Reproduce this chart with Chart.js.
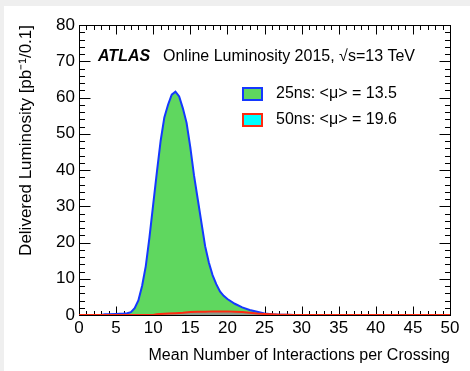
<!DOCTYPE html>
<html>
<head>
<meta charset="utf-8">
<script src="https://cdn.jsdelivr.net/npm/chart.js@4/dist/chart.umd.min.js"></script>
<style>
html,body{margin:0;padding:0;background:#efefef;width:470px;height:371px;overflow:hidden}
#wrap{position:absolute;left:4px;top:6px;width:466px;height:365px;background:#fff}
</style>
</head>
<body>
<div id="wrap"><canvas id="c" width="466" height="365"></canvas></div>
<script>
// 25ns fills (mean mu vs delivered lumi per 0.1 bin)
const mu25 = [3, 3.5, 4, 5, 6, 6.5, 7, 7.5, 8, 8.5, 9, 9.5, 10, 10.5, 11, 11.5, 12, 12.5, 13, 13.5, 14, 14.5, 15, 15.5, 16, 16.5, 17, 17.5, 18, 18.5, 19, 19.5, 20, 21, 22, 23, 24, 25, 26, 27, 28, 29, 30];
const lumi25 = [0, 0.2, 0.2, 0.3, 0.4, 0.5, 0.8, 1.9, 4, 8, 13.5, 21.5, 30.5, 39.5, 48, 54.5, 58, 60.8, 61.6, 60.3, 57, 53, 46.3, 38.5, 32, 25.5, 19, 14.5, 11, 8.5, 6.5, 5.3, 4.4, 3.1, 2.1, 1.4, 0.9, 0.4, 0.2, 0.1, 0.05, 0, 0];
// 50ns fills
const mu50 = [0, 10, 10.5, 11, 12, 13, 14, 15, 16, 17, 18, 19, 20, 21, 22, 23, 24, 25, 26, 27, 28, 29, 50];
const lumi50 = [0, 0, 0.2, 0.3, 0.4, 0.5, 0.6, 0.8, 0.9, 0.9, 1.0, 1.0, 1.0, 0.9, 0.8, 0.6, 0.4, 0.3, 0.2, 0.1, 0.05, 0, 0];

const seriesLabels = ['25ns: <\u03bc> = 13.5', '50ns: <\u03bc> = 19.6'];
const xTickValues = [0, 5, 10, 15, 20, 25, 30, 35, 40, 45, 50];
const yTickValues = [0, 10, 20, 30, 40, 50, 60, 70, 80];

const FONT = "'Liberation Sans', Arial, Helvetica, sans-serif";
const GREEN = '#5fd75f', BLUE = '#1438ff', RED = '#ff2a10', CYAN = '#00ffff';

const pts = (xs, ys) => xs.map((v, i) => ({x: v, y: ys[i]}));

// ROOT style frame with inside ticks on all four sides
const frame = {
  id: 'frame',
  beforeDatasetsDraw(chart) {
    const {ctx, chartArea: a, scales: {x, y}} = chart;
    const L = Math.round(a.left) + 0.5, R = Math.round(a.right) + 0.5;
    const T = Math.round(a.top) + 0.5, B = Math.round(a.bottom) + 0.5;
    ctx.save();
    ctx.strokeStyle = '#000'; ctx.lineWidth = 1;
    ctx.strokeRect(L, T, R - L, B - T);
    ctx.beginPath();
    for (let v = x.min; v <= x.max; v += 1) {
      const px = Math.round(x.getPixelForValue(v)) + 0.5;
      const len = v % 5 === 0 ? 9 : 4.5;
      ctx.moveTo(px, B); ctx.lineTo(px, B - len);
      ctx.moveTo(px, T); ctx.lineTo(px, T + len);
    }
    for (let v = y.min; v <= y.max; v += 2) {
      const py = Math.round(y.getPixelForValue(v)) + 0.5;
      const len = v % 10 === 0 ? 11 : 5.5;
      ctx.moveTo(L, py); ctx.lineTo(L + len, py);
      ctx.moveTo(R, py); ctx.lineTo(R - len, py);
    }
    ctx.stroke();
    ctx.restore();
  },
  afterDraw(chart) {
    const ctx = chart.ctx;
    ctx.save();
    ctx.fillStyle = '#000';
    ctx.textBaseline = 'middle';
    ctx.font = 'italic bold 16px ' + FONT;
    ctx.fillText('ATLAS', 94, 51);
    ctx.font = '16px ' + FONT;
    ctx.fillText('Online Luminosity 2015, \u221as=13 TeV', 159, 51);
    // legend
    const boxes = [[GREEN, BLUE], [CYAN, RED]];
    boxes.forEach((c, i) => {
      const by = 82 + i * 26;
      ctx.fillStyle = c[0];
      ctx.fillRect(239, by, 19, 12);
      ctx.strokeStyle = c[1]; ctx.lineWidth = 2;
      ctx.strokeRect(239, by, 19, 12);
      ctx.fillStyle = '#000';
      ctx.fillText(seriesLabels[i], 272, by + 6);
    });
    ctx.restore();
  }
};

new Chart(document.getElementById('c'), {
  type: 'line',
  data: {
    datasets: [
      {label: seriesLabels[1], data: pts(mu50, lumi50), borderColor: RED, backgroundColor: '#8c9c8c',
       borderWidth: 2, fill: 'origin', pointRadius: 0, tension: 0, order: 0},
      {label: seriesLabels[0], data: pts(mu25, lumi25), borderColor: BLUE, backgroundColor: GREEN,
       borderWidth: 2, fill: 'origin', pointRadius: 0, tension: 0, order: 1}
    ]
  },
  options: {
    responsive: false,
    animation: false,
    devicePixelRatio: 1,
    layout: {padding: {left: 0, top: 19, right: 20, bottom: 0}},
    plugins: {legend: {display: false}, tooltip: {enabled: false}},
    scales: {
      x: {
        type: 'linear', min: 0, max: 50,
        afterBuildTicks: s => { s.ticks = xTickValues.map(v => ({value: v})); },
        afterFit: s => { s.height = 56; },
        grid: {display: false, drawTicks: false},
        border: {display: false},
        ticks: {color: '#000', font: {family: FONT, size: 17}, padding: 3, maxRotation: 0, autoSkip: false},
        title: {display: true, text: 'Mean Number of Interactions per Crossing', align: 'end',
                color: '#000', font: {family: FONT, size: 16}, padding: {bottom: 6}}
      },
      y: {
        min: 0, max: 80,
        afterBuildTicks: s => { s.ticks = yTickValues.map(v => ({value: v})); },
        afterFit: s => { s.width = 75; },
        grid: {display: false, drawTicks: false},
        border: {display: false},
        ticks: {color: '#000', font: {family: FONT, size: 17}, padding: 4, autoSkip: false},
        title: {display: true, text: 'Delivered Luminosity [pb\u207b\u00b9/0.1]', align: 'end',
                color: '#000', font: {family: FONT, size: 17}, padding: {top: 12}}
      }
    }
  },
  plugins: [frame]
});
</script>
</body>
</html>
